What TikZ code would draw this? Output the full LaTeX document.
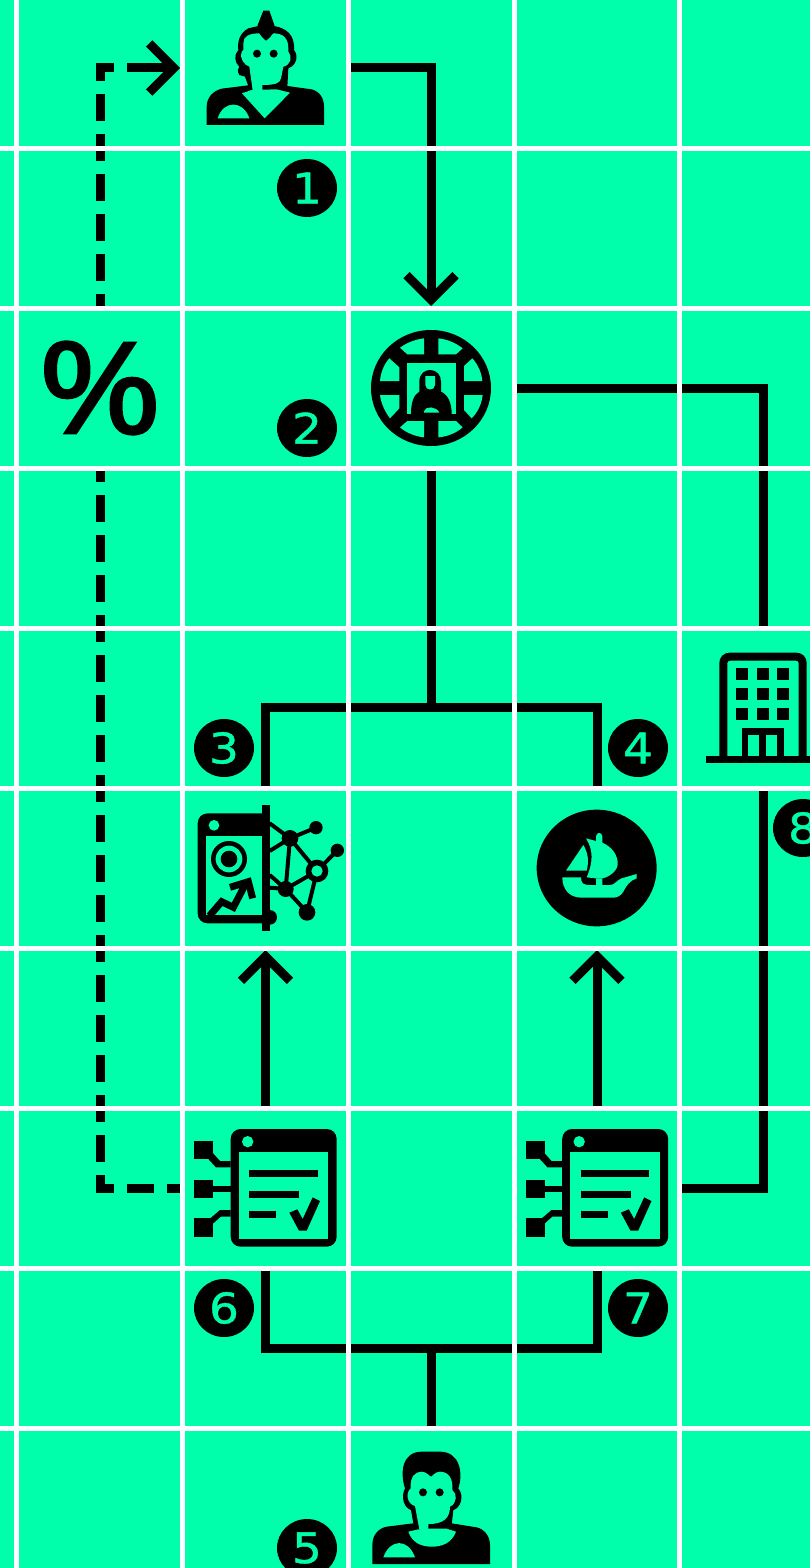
\documentclass[tikz,border=0pt]{standalone}
\usepackage{fontspec}
\setmainfont{DejaVu Sans}
\newfontfamily\pctfont[FakeBold=1.6,FakeStretch=1.18]{Noto Sans}
\newfontfamily\digfont[FakeBold=1,FakeStretch=1.12]{DejaVu Sans}
\usetikzlibrary{arrows.meta,shapes.geometric}
\definecolor{bg}{HTML}{00FFAA}
\tikzset{
  zoomat/.style 2 args={shift={(#1,#2)},x=0.33333pt,y=-0.33333pt},
  conn/.style={draw=black,line width=9pt,line join=miter},
  tip/.style={-{Straight Barb[length=24.5pt,width=49pt,line width=9pt]}},
  dashconn/.style={conn,dash pattern=on 27pt off 13pt,dash phase=15pt},
  cell/.style={minimum width=170pt,minimum height=164pt,inner sep=0pt,outer sep=0pt},
  badge/.style={ellipse,fill=black,text=bg,minimum width=60pt,minimum height=58pt,inner sep=0pt,font=\digfont\fontsize{42}{42}\selectfont},
  blk/.style={fill=black},
  tl/.style={fill=bg},
  gridline/.style={draw=white,line width=5pt}
}
\newcommand{\taskicon}[2]{%
\begin{scope}[zoomat={#1}{#2}]
  \fill[blk] (152,87) .. controls (152,70) and (165,57) .. (182,57) -- (440,57) .. controls (457,57) and (470,70) .. (470,87) -- (470,380) .. controls (470,397) and (457,410) .. (440,410) -- (182,410) .. controls (165,410) and (152,397) .. (152,380) -- cycle;
  \fill[tl] (176,127) rectangle (445,386);
  \fill[tl] (203,95) ellipse [x radius=17,y radius=17];
  \fill[blk] (208,180) rectangle (413,202);
  \fill[blk] (208,243) rectangle (357,265);
  \fill[blk] (208,303) rectangle (288,325);
  \fill[blk] (328,308) -- (352,298) -- (368,327) -- (398,262) -- (420,273) -- (380,362) -- (357,362) -- cycle;
  \fill[blk] (43,92) rectangle (100,147);
  \fill[blk] (43,210) rectangle (100,265);
  \fill[blk] (43,325) rectangle (100,380);
  \fill[blk] (95,125) -- (120,153) -- (152,153) -- (152,172) -- (108,172) -- (85,147) -- cycle;
  \fill[blk] (100,228) rectangle (152,246);
  \fill[blk] (85,330) -- (120,300) -- (152,300) -- (152,320) -- (122,320) -- (100,340) -- cycle;
\end{scope}}
\begin{document}
\begin{tikzpicture}[x=1pt,y=-1pt]
\clip (0,0) rectangle (810,1568);
\fill[bg] (0,0) rectangle (810,1568);

% invisible cells of the icons
\node[cell,minimum width=171pt] (n1) at (265.5,68) {};
\node[cell] (n2) at (431,388) {};
\node[cell,minimum width=171pt] (n3) at (265.5,868) {};
\node[cell] (n4) at (597,868) {};
\node[cell] (n5) at (431,1508) {};
\node[cell,minimum width=171pt] (n6) at (265.5,1188) {};
\node[cell] (n7) at (597,1188) {};
\node[cell] (n8) at (763,708) {};
\node[cell,font=\pctfont\fontsize{127}{127}\selectfont] (pct) at (100,388) {\%};
\coordinate (j1) at (431,707);
\coordinate (j2) at (431,1348);
\coordinate (d1) at (100,1188);
\coordinate (d2) at (100,68);
\coordinate (d3) at (150,68);

% connectors
\draw[conn,tip] (n1.east) -| (n2.north);
\draw[conn] (n2.east) -| (n8.north);
\draw[conn] (n8.south) |- (n7.east);
\draw[conn] (n2.south) -- (j1);
\draw[conn] (n3.north) |- (j1) -| (n4.north);
\draw[conn] (n5.north) -- (j2);
\draw[conn] (n6.south) |- (j2) -| (n7.south);
\draw[conn,tip] (n6.north) -- (n3.south);
\draw[conn,tip] (n7.north) -- (n4.south);
\draw[dashconn] (pct.south) -- (d1) -- (n6.west);
\draw[dashconn] (pct.north) -- (d2) -- (d3);
\draw[conn,tip] (d3) -- (n1.west);

% grid
\foreach \gx in {16.5,182.5,348.5,514,679.5} \draw[gridline] (\gx,0) -- (\gx,1568);
\foreach \gy in {148.5,308.5,468.5,628.5,788.5,948.5,1108.5,1268.5,1428.5} \draw[gridline] (0,\gy) -- (810,\gy);

% icon 1: person with mohawk
\begin{scope}[zoomat={180}{0}]
  \fill[blk] (80,375) -- (80,320) .. controls (80,292) and (100,272) .. (125,266) -- (205,256) -- (322,258) -- (395,268) .. controls (420,275) and (432,295) .. (432,320) -- (432,375) -- cycle;
  \fill[tl] (186,280) -- (215,270) -- (290,268) -- (330,278) -- (254,355) -- cycle;
  \fill[tl] (113,355) .. controls (130,300) and (190,300) .. (208,355) -- cycle;
  \fill[blk] (205,258) -- (195,230) -- (178,225) .. controls (172,215) and (172,205) .. (178,200) .. controls (165,190) and (160,165) .. (175,150) .. controls (172,125) and (178,100) .. (205,85) -- (235,78) -- (283,78) .. controls (320,85) and (345,105) .. (342,150) .. controls (355,165) and (352,195) .. (325,205) -- (322,262) -- cycle;
  \fill[tl] (190,130) .. controls (190,110) and (205,100) .. (240,100) -- (258,120) -- (280,100) .. controls (310,100) and (325,115) .. (325,145) -- (325,155) .. controls (338,170) and (333,195) .. (310,200) -- (303,235) .. controls (300,250) and (285,255) .. (247,255) -- (247,270) -- (218,270) -- (208,200) .. controls (195,195) and (178,180) .. (185,155) -- (190,150) -- cycle;
  \fill[blk] (250,32) -- (268,32) -- (283,75) .. controls (283,95) and (280,105) .. (258,122) .. controls (238,105) and (233,95) .. (233,75) -- cycle;
  \fill[blk] (231,161) circle [radius=12];
  \fill[blk] (281,161) circle [radius=12];
\end{scope}

% icon 2: globe
\begin{scope}[zoomat={350}{310}]
  \fill[blk] (243,234) ellipse [x radius=180,y radius=174];
  \fill[tl] (150,113) .. controls (175,95) and (200,88) .. (222,85) -- (222,133) -- (172,133) -- cycle;
  \fill[tl] (265,85) .. controls (290,88) and (315,97) .. (338,115) -- (318,133) -- (265,133) -- cycle;
  \fill[tl] (118,145) -- (148,172) -- (148,213) -- (90,213) .. controls (92,190) and (100,165) .. (118,145) -- cycle;
  \fill[tl] (367,145) -- (342,168) -- (342,213) -- (397,213) .. controls (395,190) and (385,165) .. (367,145) -- cycle;
  \fill[tl] (90,255) -- (148,255) -- (148,295) -- (120,325) .. controls (105,305) and (93,280) .. (90,255) -- cycle;
  \fill[tl] (342,255) -- (398,255) .. controls (395,280) and (385,305) .. (365,325) -- (342,300) -- cycle;
  \fill[tl] (150,352) -- (172,333) -- (222,333) -- (222,382) .. controls (200,380) and (170,370) .. (150,352) -- cycle;
  \fill[tl] (265,333) -- (318,333) -- (338,352) .. controls (318,370) and (290,380) .. (265,382) -- cycle;
  \fill[tl] (172,158) rectangle (318,312);
  \fill[blk] (208,215) .. controls (208,190) and (225,180) .. (240,180) .. controls (260,180) and (273,195) .. (273,215) -- (273,245) .. controls (295,255) and (305,280) .. (305,312) -- (183,312) .. controls (183,280) and (190,255) .. (208,245) -- cycle;
  \fill[tl] (226,198) -- (255,198) -- (255,225) .. controls (255,243) and (226,243) .. (226,225) -- cycle;
  \fill[tl] (222,303) .. controls (228,288) and (258,288) .. (268,308) -- (222,308) -- cycle;
\end{scope}

% icon 3: page with network
\begin{scope}[zoomat={180}{790}]
  \fill[blk] (53,100) .. controls (53,83) and (66,70) .. (83,70) -- (250,70) -- (250,400) -- (83,400) .. controls (66,400) and (53,387) .. (53,370) -- cycle;
  \fill[tl] (78,138) rectangle (245,375);
  \fill[tl] (102,106) circle [radius=16];
  \fill[blk] (245,45) rectangle (269,422);
  \fill[blk] (147,207) circle [radius=54];
  \fill[tl] (147,207) circle [radius=40];
  \fill[blk] (147,207) circle [radius=25];
  \draw[black,line width=7pt,line join=miter] (88,378) -- (125,335) -- (160,352) -- (195,285);
  \draw[black,line width=7pt,line join=miter] (150,292) -- (205,275) -- (218,325);
  \fill[blk] (269,360) .. controls (282,360) and (291,370) .. (291,382) .. controls (291,394) and (282,404) .. (269,404) -- cycle;
  \draw[black,line width=4pt]
    (269,100) -- (330,145) (269,183) -- (330,145) (330,145) -- (408,113)
    (330,145) -- (317,297) (330,145) -- (411,243) (411,243) -- (472,181)
    (411,243) -- (317,297) (411,243) -- (381,367) (317,297) -- (381,367)
    (269,255) -- (317,297) (269,293) -- (317,297);
  \fill[blk] (330,145) circle [radius=25];
  \fill[blk] (408,113) circle [radius=20];
  \fill[blk] (472,181) circle [radius=20];
  \fill[blk] (411,243) circle [radius=34];
  \fill[tl] (411,243) circle [radius=17];
  \fill[blk] (317,297) circle [radius=24];
  \fill[blk] (381,367) circle [radius=25];
\end{scope}

% icon 4: boat
\begin{scope}[zoomat={515}{790}]
  \fill[blk] (245,234) ellipse [x radius=180,y radius=175];
  \fill[tl] (142,262) -- (198,262) .. controls (198,280) and (205,285) .. (225,285) -- (243,285) -- (243,265) -- (262,265) -- (262,285) -- (285,285) .. controls (300,285) and (305,270) .. (320,265) -- (365,252) -- (365,265) .. controls (345,272) and (335,285) .. (325,305) .. controls (318,318) and (305,323) .. (295,323) -- (200,323) .. controls (165,323) and (142,300) .. (142,262) -- cycle;
  \fill[tl] (205,165) .. controls (220,190) and (222,215) .. (215,242) -- (153,242) -- cycle;
  \fill[tl] (213,145) -- (243,153) -- (243,140) .. controls (243,125) and (262,125) .. (262,140) -- (262,158) .. controls (290,170) and (310,195) .. (308,225) .. controls (305,245) and (280,262) .. (262,265) -- (243,265) -- (215,262) .. controls (235,215) and (235,180) .. (213,145) -- cycle;
\end{scope}

% icon 5: person
\begin{scope}[zoomat={350}{1430}]
  \fill[blk] (67,402) -- (67,345) .. controls (67,315) and (85,295) .. (110,290) -- (205,278) -- (305,280) -- (380,292) .. controls (405,298) and (420,320) .. (420,345) -- (420,402) -- cycle;
  \fill[tl] (175,305) -- (205,298) -- (235,296) -- (290,296) -- (318,305) .. controls (305,340) and (275,350) .. (245,350) .. controls (210,350) and (185,335) .. (175,305) -- cycle;
  \fill[tl] (100,382) .. controls (120,325) and (175,325) .. (195,382) -- cycle;
  \fill[blk] (190,280) -- (183,240) .. controls (165,235) and (150,205) .. (165,175) .. controls (150,130) and (155,65) .. (215,65) -- (270,65) .. controls (330,65) and (340,130) .. (325,175) .. controls (345,200) and (330,235) .. (310,240) -- (305,285) -- cycle;
  \fill[tl] (182,175) .. controls (180,140) and (195,125) .. (215,125) .. controls (230,125) and (240,140) .. (243,140) .. controls (246,140) and (255,125) .. (270,125) .. controls (295,125) and (310,145) .. (307,180) .. controls (322,190) and (322,220) .. (300,230) .. controls (300,265) and (280,282) .. (235,282) -- (235,298) -- (208,298) -- (195,228) .. controls (172,222) and (165,190) .. (182,175) -- cycle;
  \fill[blk] (219,187) circle [radius=12];
  \fill[blk] (269,187) circle [radius=12];
\end{scope}

% icon 6 and 7: task pages
\taskicon{180}{1110}
\taskicon{511.5}{1110}

% icon 8: building
\begin{scope}[zoomat={680}{630}]
  \draw[black,line width=8pt] (130,385) -- (130,100) .. controls (130,88) and (138,80) .. (150,80) -- (348,80) .. controls (360,80) and (368,88) .. (368,100) -- (368,385);
  \fill[blk] (77,378) rectangle (400,400);
  \foreach \wx in {168,231,292} \foreach \wy in {113,173,233}
    \fill[blk] (\wx,\wy) rectangle ++(36,36);
  \fill[blk] (185,295) rectangle (311,380);
  \fill[tl] (205,315) rectangle (238,378);
  \fill[tl] (258,315) rectangle (292,378);
\end{scope}

% number badges
\node[badge] (b1) at (307,188) {1};
\node[badge] (b2) at (307,428) {2};
\node[badge] (b3) at (224,748) {3};
\node[badge] (b4) at (638,748) {4};
\node[badge] (b5) at (307,1548) {5};
\node[badge] (b6) at (224,1308) {6};
\node[badge] (b7) at (638,1308) {7};
\node[badge] (b8) at (803,828) {8};
\end{tikzpicture}
\end{document}
